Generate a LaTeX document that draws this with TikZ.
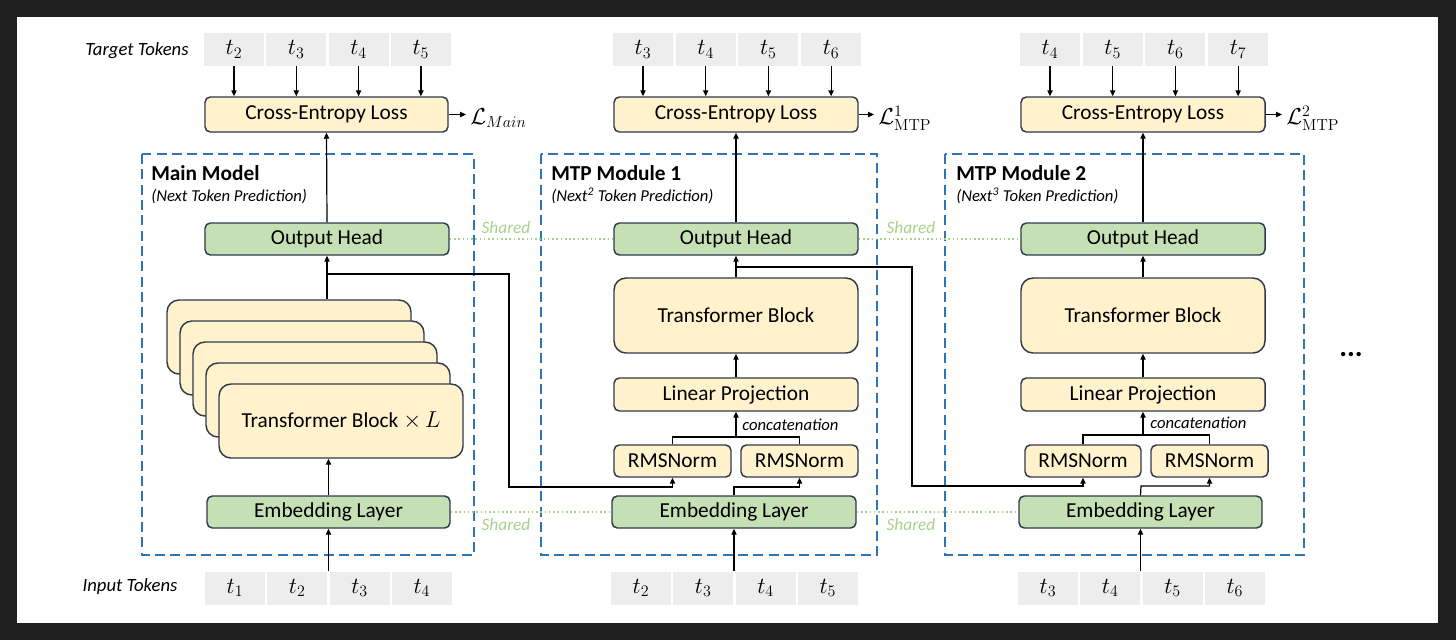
\documentclass[tikz,border=0pt]{standalone}
\usepackage[no-math]{fontspec}
\setmainfont{Carlito}
\usetikzlibrary{arrows.meta,calc}
\definecolor{framec}{HTML}{1E1E1E}
\definecolor{tokgray}{HTML}{EDEDED}
\definecolor{ylw}{HTML}{FFF2CC}
\definecolor{grn}{HTML}{C5E0B4}
\definecolor{edgec}{HTML}{2F3B4C}
\definecolor{modblue}{HTML}{2E75B6}
\definecolor{shr}{HTML}{A9D18E}
\begin{document}
\begin{tikzpicture}[x=0.75pt,y=-0.75pt,
  sz/.style 2 args={minimum width=#1*0.75pt,minimum height=#2*0.75pt},
  blk/.style={draw=edgec,line width=1.1pt,rounded corners=4pt,inner sep=0pt,font=\fontsize{16}{19}\selectfont},
  yblk/.style={blk,fill=ylw},
  gblk/.style={blk,fill=grn},
  tblk/.style={yblk,rounded corners=9pt},
  tok/.style={fill=tokgray,inner sep=0pt,sz={60}{33},font=\fontsize{18}{21}\selectfont},
  arr/.style={line width=0.9pt,-{Triangle[length=4.5pt,width=4pt]}},
  ln/.style={line width=0.9pt},
  modbox/.style={draw=modblue,line width=1.6pt,dash pattern=on 7.5pt off 4pt},
  shared/.style={draw=shr,line width=1.2pt,dotted},
  sharedlbl/.style={text=shr,font=\itshape\fontsize{13}{15}\selectfont},
  title/.style={font=\bfseries\fontsize{16}{19}\selectfont,anchor=west,inner sep=0pt},
  subtitle/.style={font=\itshape\fontsize{12.5}{15}\selectfont,anchor=west,inner sep=0pt},
  rowlbl/.style={font=\itshape\fontsize{14}{17}\selectfont},
  losslbl/.style={anchor=west,inner sep=3pt,font=\fontsize{17}{20}\selectfont},
  concat/.style={font=\itshape\fontsize{12.5}{15}\selectfont,anchor=west,inner sep=0pt},
]
% background frame
\fill[framec] (0,0) rectangle (1456,640);
\fill[white] (17,17) rectangle (1438,623);

% module frames
\draw[modbox] (142,154) rectangle (474,555);
\draw[modbox] (541,154) rectangle (877,555);
\draw[modbox] (945,154) rectangle (1304,555);

\node[title] (tm0) at (151,173) {Main Model};
\node[subtitle] (st0) at (151,197) {(Next Token Prediction)};
\node[title] (tm1) at (551,173) {MTP Module 1};
\node[subtitle] (st1) at (551,196) {(Next\textsuperscript{2} Token Prediction)};
\node[title] (tm2) at (956,173) {MTP Module 2};
\node[subtitle] (st2) at (956,196) {(Next\textsuperscript{3} Token Prediction)};

\node[rowlbl] (tgl) at (137,51) {Target Tokens};
\node[rowlbl] (inl) at (130,587) {Input Tokens};

% token rows
\foreach \k/\n in {1/2,2/3,3/4,4/5} \node[tok] (a\k) at ({234+62.3*(\k-1)},49.5) {$t_{\n}$};
\foreach \k/\n in {1/1,2/2,3/3,4/4} \node[tok] (b\k) at ({235+62.3*(\k-1)},588) {$t_{\n}$};
\foreach \k/\n in {1/3,2/4,3/5,4/6} \node[tok] (c\k) at ({643+62.7*(\k-1)},49.5) {$t_{\n}$};
\foreach \k/\n in {1/2,2/3,3/4,4/5} \node[tok] (d\k) at ({641+62.3*(\k-1)},588) {$t_{\n}$};
\foreach \k/\n in {1/4,2/5,3/6,4/7} \node[tok] (e\k) at ({1050+62.7*(\k-1)},49.5) {$t_{\n}$};
\foreach \k/\n in {1/3,2/4,3/5,4/6} \node[tok] (f\k) at ({1048+62.3*(\k-1)},588) {$t_{\n}$};

% ---------- main model ----------
\node[yblk,sz={243}{35}] (ce0) at (326.5,114.5) {Cross-Entropy Loss};
\node[gblk,sz={244}{32}] (oh0) at (327,239) {Output Head};
\foreach \i in {0,...,3} \node[tblk,sz={244}{74}] (sk\i) at ({341-13*(4-\i)},{421-21*(4-\i)}) {};
\node[tblk,sz={244}{74}] (tb0) at (341,421) {Transformer Block $\times\,L$};
\node[gblk,sz={243}{32}] (em0) at (328.5,512) {Embedding Layer};
\node[losslbl] (L0) at (466,118) {$\mathcal{L}_{Main}$};

% ---------- MTP module 1 ----------
\node[yblk,sz={244}{35}] (ce1) at (736,114.5) {Cross-Entropy Loss};
\node[gblk,sz={244}{32}] (oh1) at (736,239) {Output Head};
\node[tblk,sz={244}{75}] (tb1) at (736,315.5) {Transformer Block};
\node[yblk,sz={244}{33}] (lp1) at (736,394.5) {Linear Projection};
\node[yblk,sz={117}{32}] (r11) at (672.5,461) {RMSNorm};
\node[yblk,sz={117}{32}] (r12) at (799.5,461) {RMSNorm};
\node[gblk,sz={244}{32}] (em1) at (734,512) {Embedding Layer};
\node[losslbl] (L1) at (874,118) {$\mathcal{L}^{1}_{\mathrm{MTP}}$};
\node[concat] (cc1) at (742,425) {concatenation};

% ---------- MTP module 2 ----------
\node[yblk,sz={244}{35}] (ce2) at (1143,114.5) {Cross-Entropy Loss};
\node[gblk,sz={244}{32}] (oh2) at (1143,239) {Output Head};
\node[tblk,sz={244}{75}] (tb2) at (1143,315.5) {Transformer Block};
\node[yblk,sz={244}{33}] (lp2) at (1143,394.5) {Linear Projection};
\node[yblk,sz={116}{32}] (r21) at (1083,461) {RMSNorm};
\node[yblk,sz={117}{32}] (r22) at (1209.5,461) {RMSNorm};
\node[gblk,sz={243}{32}] (em2) at (1140.5,512) {Embedding Layer};
\node[losslbl] (L2) at (1282,118) {$\mathcal{L}^{2}_{\mathrm{MTP}}$};
\node[concat] (cc2) at (1150,423) {concatenation};

\node[font=\bfseries\fontsize{22}{24}\selectfont] (dots) at (1351,355) {...};

% shared links
\draw[shared] (oh0.east) -- (oh1.west);
\draw[shared] (oh1.east) -- (oh2.west);
\draw[shared] (em0.east) -- (em1.west);
\draw[shared] (em1.east) -- (em2.west);
\node[sharedlbl] (s1) at (506,228) {Shared};
\node[sharedlbl] (s2) at (911,228) {Shared};
\node[sharedlbl] (s3) at (506,525) {Shared};
\node[sharedlbl] (s4) at (911,525) {Shared};

% target arrows
\foreach \k in {1,...,4} {
  \draw[arr] (a\k.south) -- (a\k.south |- ce0.north);
  \draw[arr] (c\k.south) -- (c\k.south |- ce1.north);
  \draw[arr] (e\k.south) -- (e\k.south |- ce2.north);
}
% loss arrows
\draw[arr] (ce0.east) -- (ce0.east -| L0.west);
\draw[arr] (ce1.east) -- (ce1.east -| L1.west);
\draw[arr] (ce2.east) -- (ce2.east -| L2.west);

% main connectors
\draw[arr] (oh0.north) -- (ce0.south);
\draw[arr] (oh0.south |- sk0.north) -- (oh0.south);
\draw[arr] (em0.north) -- (em0.north |- tb0.south);
\draw[arr] (em0.south |- b1.north) -- (em0.south);
\coordinate (j0) at (327,274);
\coordinate (k0) at (509,487);
\draw[arr] (j0) -| (k0) -| (r11.south);

% MTP1 connectors
\draw[arr] (oh1.north) -- (ce1.south);
\draw[arr] (tb1.north) -- (oh1.south);
\draw[arr] (lp1.north) -- (tb1.south);
\coordinate (cj1) at (736,437);
\draw[ln] (r11.north) |- (cj1) -| (r12.north);
\draw[arr] (cj1) -- (lp1.south);
\coordinate (ej1) at (734,487);
\draw[arr] (em1.north) -- (ej1) -| (r12.south);
\draw[arr] (em1.south |- d1.north) -- (em1.south);
\coordinate (j1) at (736,267);
\coordinate (k1) at (912,486);
\draw[arr] (j1) -| (k1) -| (r21.south);

% MTP2 connectors
\draw[arr] (oh2.north) -- (ce2.south);
\draw[arr] (tb2.north) -- (oh2.south);
\draw[arr] (lp2.north) -- (tb2.south);
\coordinate (cj2) at (1143,435);
\draw[ln] (r21.north) |- (cj2) -| (r22.north);
\draw[arr] (cj2) -- (lp2.south);
\coordinate (ej2) at (1141,486);
\draw[arr] (em2.north) -- (ej2) -| (r22.south);
\draw[arr] (em2.south |- f1.north) -- (em2.south);
\end{tikzpicture}
\end{document}
